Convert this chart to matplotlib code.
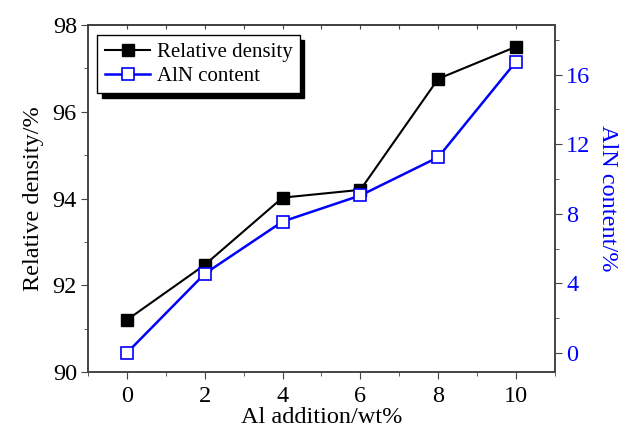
import matplotlib
matplotlib.use("Agg")
import matplotlib.pyplot as plt
from matplotlib.ticker import MultipleLocator

plt.rcParams['font.family'] = ['Liberation Serif', 'DejaVu Serif']

# data
al_add = [0, 2, 4, 6, 8, 10]
rel_density = [91.2, 92.47, 94.02, 94.2, 96.76, 97.5]
aln_content = [0.0, 4.55, 7.55, 9.05, 11.25, 16.75]

fig = plt.figure(figsize=(6.21, 4.32), dpi=100)
ax = fig.add_axes([0.1417, 0.1389, 0.752, 0.8032])
ax2 = ax.twinx()

l1, = ax.plot(al_add, rel_density, color='black', marker='s', markersize=8.5,
              linewidth=1.5, label='Relative density', zorder=3)
l2, = ax2.plot(al_add, aln_content, color='blue', marker='s', markersize=8.5,
               markerfacecolor='white', markeredgecolor='blue', markeredgewidth=1.2,
               linewidth=1.8, label='AlN content', zorder=3)

ax.set_xlim(-1, 11)
ax.set_ylim(90, 98)
ax2.set_ylim(-1.1, 18.85)

ax.xaxis.set_major_locator(MultipleLocator(2))
ax.xaxis.set_minor_locator(MultipleLocator(1))
ax.yaxis.set_major_locator(MultipleLocator(2))
ax.yaxis.set_minor_locator(MultipleLocator(1))
ax2.yaxis.set_major_locator(MultipleLocator(4))
ax2.yaxis.set_minor_locator(MultipleLocator(2))

ax.tick_params(axis='both', which='major', direction='out', length=5, labelsize=17.5,
               color='#444444')
ax.tick_params(axis='both', which='minor', direction='out', length=3, color='#444444')
ax.tick_params(axis='x', which='major', pad=5)
ax.tick_params(axis='y', which='major', pad=3)
ax2.tick_params(axis='y', which='major', direction='out', length=5, labelsize=17.5,
                labelcolor='blue', color='#444444', pad=3)
ax2.tick_params(axis='y', which='minor', direction='out', length=3, color='#444444')

# inward ticks along the top edge
top = ax.secondary_xaxis('top')
top.xaxis.set_major_locator(MultipleLocator(1))
top.tick_params(direction='in', length=3, labeltop=False, color='#444444')

for a in (ax, ax2):
    for s in a.spines.values():
        s.set_linewidth(1.2)
        s.set_color('#444444')
top.spines['top'].set_linewidth(1.2)
top.spines['top'].set_color('#444444')

ax.set_xlabel('Al addition/wt%', fontsize=17.5, labelpad=0)
ax.set_ylabel('Relative density/%', fontsize=17.5, labelpad=6)
ax2.set_ylabel('AlN content/%', fontsize=17.5, color='blue', rotation=270, labelpad=20)

leg = ax.legend(handles=[l1, l2], loc='upper left', fontsize=15, frameon=True,
                fancybox=False, shadow={'color': 'black', 'alpha': 1, 'ox': 3, 'oy': -3},
                edgecolor='black', borderpad=0.35, handlelength=2.2, handletextpad=0.3,
                bbox_to_anchor=(0.02, 0.97), labelspacing=0.2, borderaxespad=0)
leg.get_frame().set_linewidth(1.0)

fig.savefig('out.png', dpi=100)
